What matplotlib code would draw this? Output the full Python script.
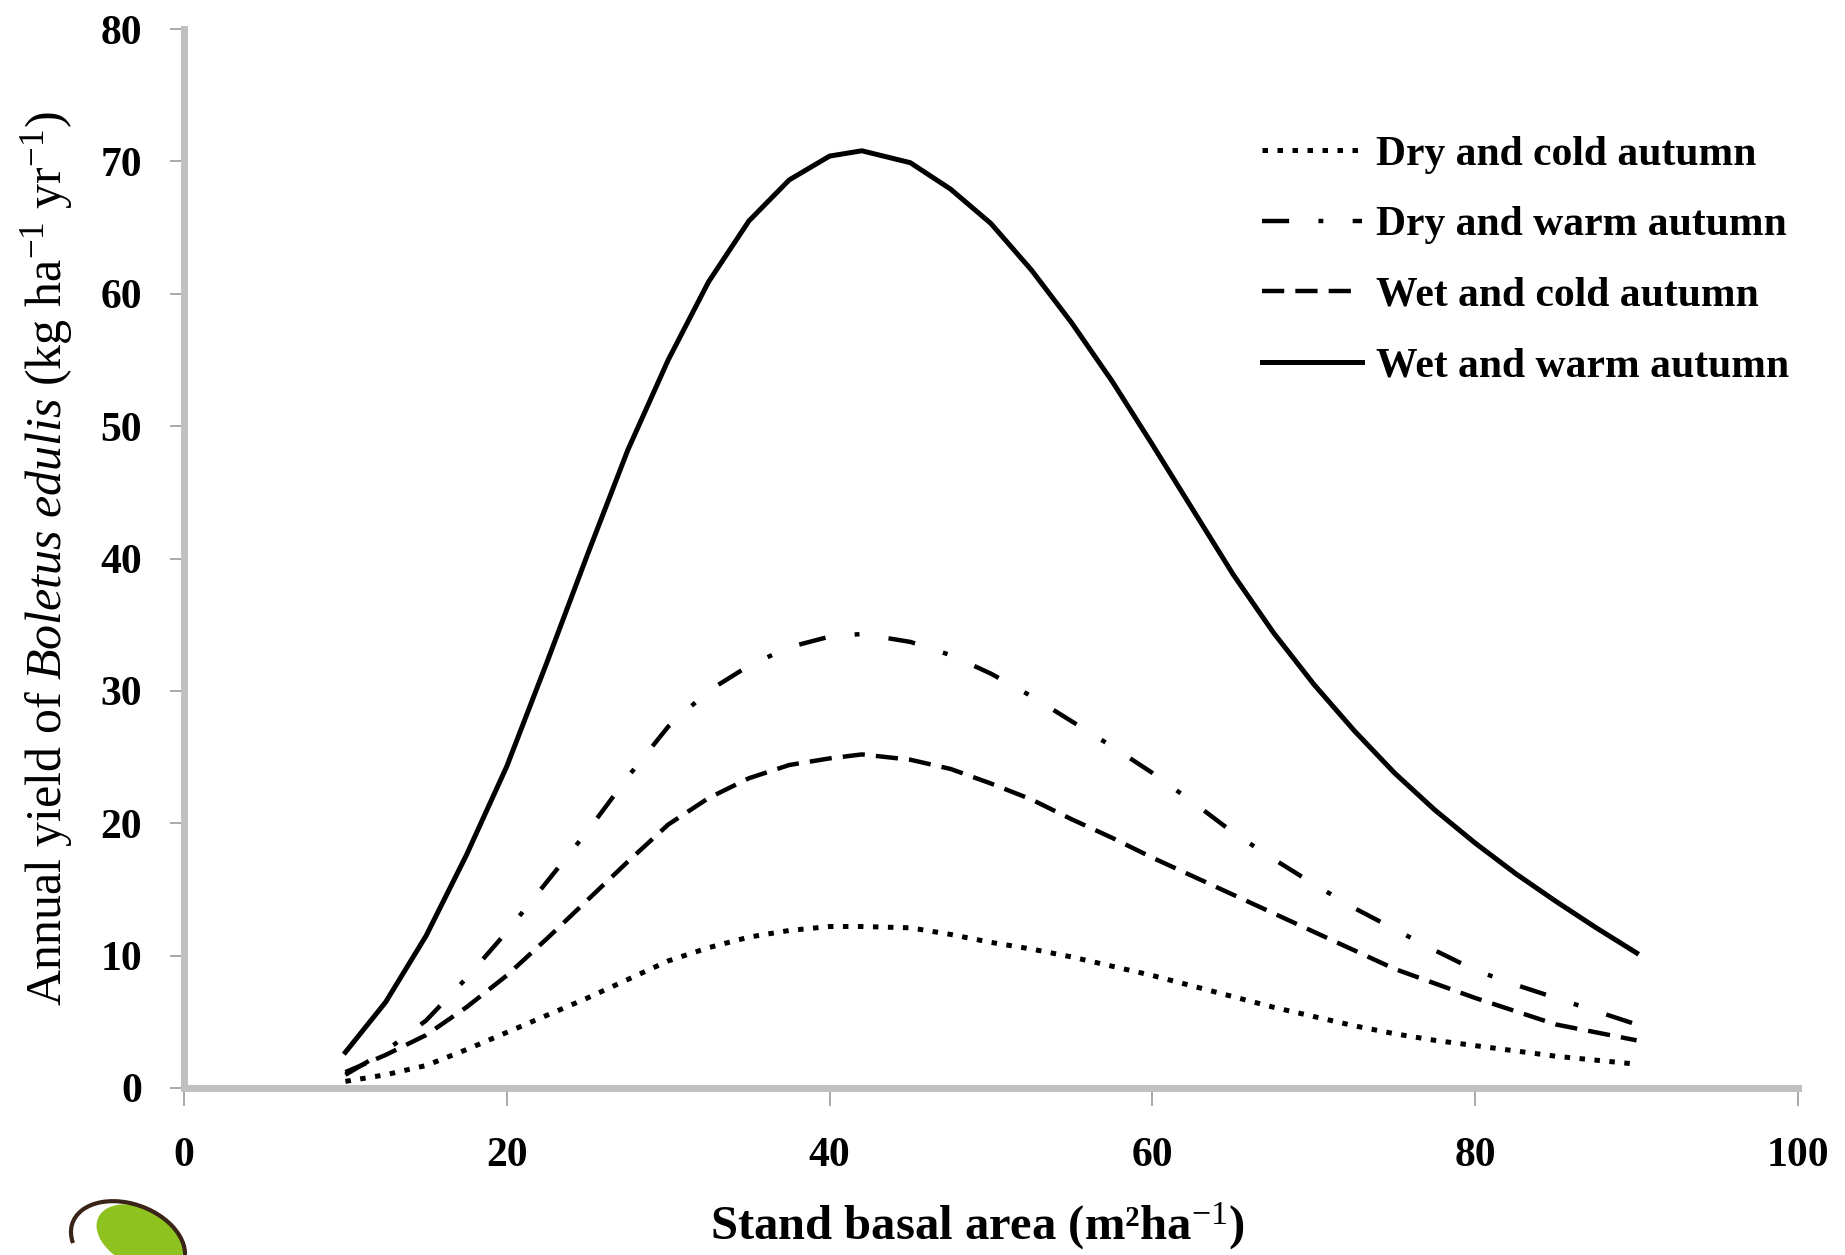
import matplotlib
matplotlib.use("Agg")
import matplotlib.pyplot as plt
from matplotlib.patches import Ellipse, Arc

# values
basal_area = [10, 12.5, 15, 17.5, 20, 22.5, 25, 27.5, 30, 32.5, 35, 37.5, 40, 42, 45, 47.5,
              50, 52.5, 55, 57.5, 60, 62.5, 65, 67.5, 70, 72.5, 75, 77.5, 80, 82.5, 85, 87.5, 90]
dry_cold = [0.5, 1.0, 1.7, 2.9, 4.2, 5.5, 6.8, 8.2, 9.6, 10.6, 11.4, 11.9, 12.2, 12.2, 12.1, 11.6,
            11.0, 10.5, 9.9, 9.2, 8.5, 7.7, 6.9, 6.1, 5.4, 4.7, 4.1, 3.6, 3.2, 2.8, 2.4, 2.1, 1.8]
dry_warm = [1.0, 2.8, 5.1, 8.3, 11.8, 15.6, 19.4, 23.5, 27.3, 30.0, 31.9, 33.3, 34.1, 34.3, 33.7, 32.7,
            31.3, 29.6, 27.7, 25.8, 23.8, 21.6, 19.3, 17.3, 15.4, 13.6, 12.0, 10.4, 8.9, 7.8, 6.8, 5.8, 4.8]
wet_cold = [1.2, 2.5, 4.0, 6.1, 8.5, 11.3, 14.2, 17.1, 19.9, 21.9, 23.4, 24.4, 24.9, 25.2, 24.8, 24.1,
            23.0, 21.8, 20.3, 18.9, 17.4, 16.0, 14.6, 13.2, 11.8, 10.4, 9.0, 7.9, 6.8, 5.8, 4.8, 4.2, 3.6]
wet_warm = [2.7, 6.5, 11.5, 17.6, 24.3, 32.2, 40.3, 48.2, 55.0, 60.9, 65.5, 68.6, 70.4, 70.8, 69.9, 67.9,
            65.3, 61.8, 57.8, 53.4, 48.6, 43.7, 38.8, 34.4, 30.5, 27.0, 23.8, 21.0, 18.5, 16.2, 14.1, 12.1, 10.2]

labels = ["Dry and cold autumn", "Dry and warm autumn", "Wet and cold autumn", "Wet and warm autumn"]
x_ticks = [0, 20, 40, 60, 80, 100]
y_ticks = [0, 10, 20, 30, 40, 50, 60, 70, 80]

plt.rcParams["mathtext.fontset"] = "custom"
plt.rcParams["mathtext.rm"] = "Liberation Serif"
plt.rcParams["mathtext.it"] = "Liberation Serif:italic"
plt.rcParams["mathtext.bf"] = "Liberation Serif:bold"

SERIF = ["Liberation Serif", "DejaVu Serif"]
SPINE_GRAY = "#c0c0c0"
W, H = 1845, 1255

fig = plt.figure(figsize=(W / 100, H / 100), dpi=100)
ax = fig.add_axes([184 / W, 1 - 1088 / H, (1798 - 184) / W, (1088 - 29) / H])

ax.plot(basal_area, dry_cold, color="black", lw=3.6, linestyle=(0, (1.1, 1.9)),
        dash_capstyle="butt", label=labels[0])
ax.plot(basal_area, dry_warm, color="black", lw=3.2, linestyle=(0, (6.1, 6.6, 1.1, 6.6)),
        dash_capstyle="butt", label=labels[1])
ax.plot(basal_area, wet_cold, color="black", lw=3.2, linestyle=(0, (5.0, 2.5)),
        dash_capstyle="butt", label=labels[2])
ax.plot(basal_area, wet_warm, color="black", lw=3.6, linestyle="-", label=labels[3])

ax.set_xlim(0, 100)
ax.set_ylim(0, 80)
ax.set_xticks(x_ticks)
ax.set_yticks(y_ticks)
ax.set_xticklabels([str(v) for v in x_ticks], family=SERIF, fontweight="bold", fontsize=30)
ax.set_yticklabels([str(v) for v in y_ticks], family=SERIF, fontweight="bold", fontsize=30)

for side in ("top", "right"):
    ax.spines[side].set_visible(False)
for side in ("left", "bottom"):
    ax.spines[side].set_color(SPINE_GRAY)
    ax.spines[side].set_linewidth(5)
ax.tick_params(axis="x", direction="out", length=13, width=1.2, color="#9a9a9a", pad=22)
ax.tick_params(axis="y", direction="out", length=10, width=1.2, color="#9a9a9a", pad=20)

fig.text(977 / W, 1 - 1226 / H, "Stand basal area (m²ha$^{-1}$)", family=SERIF,
         fontweight="bold", fontsize=35, ha="center", va="center")
fig.text(47 / W, 1 - 559 / H,
         r"Annual yield of $\it{Boletus\ edulis}$ (kg ha$^{-1}$ yr$^{-1}$)",
         family=SERIF, fontsize=36, rotation=90, ha="center", va="center")

ax.legend(loc="upper right", bbox_to_anchor=(1.018, 0.935), frameon=False,
          prop={"family": SERIF, "weight": "bold", "size": 30},
          handlelength=2.4, handletextpad=0.35, labelspacing=0.78)

# logo fragment in the bottom-left corner
logo = Ellipse((140, 18), 92, 58, angle=-25, transform=None, facecolor="#8dc21f",
               edgecolor="none", zorder=5)
fig.patches.append(logo)
ring = Arc((128, 12), 118, 78, angle=-20, theta1=0, theta2=200, transform=None,
           edgecolor="#3a2417", lw=3, zorder=6)
fig.patches.append(ring)

fig.savefig("out.png", dpi=100)
